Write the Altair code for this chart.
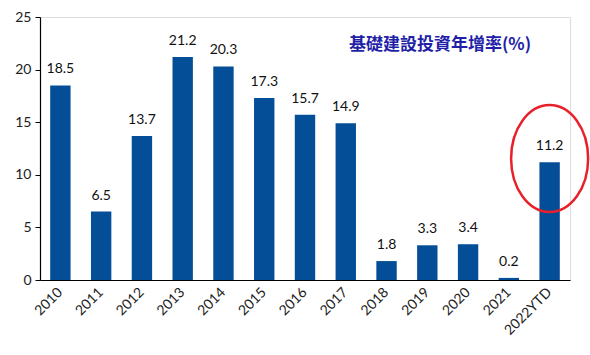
import altair as alt
import pandas as pd

years = ["2010", "2011", "2012", "2013", "2014", "2015", "2016", "2017",
         "2018", "2019", "2020", "2021", "2022YTD"]
values = [18.5, 6.5, 13.7, 21.2, 20.3, 17.3, 15.7, 14.9, 1.8, 3.3, 3.4, 0.2, 11.2]
labels = ["18.5", "6.5", "13.7", "21.2", "20.3", "17.3", "15.7", "14.9", "1.8", "3.3", "3.4", "0.2", "11.2"]
title_text = "基礎建設投資年增率(%)"
highlight_year = "2022YTD"
highlight_center = 11.55

df = pd.DataFrame({"year": years, "value": values, "label": labels})
hl = pd.DataFrame({"year": [highlight_year], "value": [highlight_center]})

x = alt.X("year:N", sort=years, title=None,
          scale=alt.Scale(paddingInner=0.5, paddingOuter=0.25),
          axis=alt.Axis(labelAngle=-45, labelAlign="right", labelBaseline="middle",
                        labelFontSize=14, labelFont="Lato", labelColor="#222",
                        ticks=False, labelPadding=10, domainColor="#000",
                        domainWidth=1.2))
y = alt.Y("value:Q", title=None,
          scale=alt.Scale(domain=[0, 25], nice=False),
          axis=alt.Axis(values=[0, 5, 10, 15, 20, 25], grid=False,
                        labelFontSize=14, labelFont="Lato", labelColor="#222",
                        tickSize=5, tickColor="#000", domainColor="#000",
                        labelPadding=4, domainWidth=1.2))

bars = alt.Chart(df).mark_bar(color="#044E98").encode(x=x, y=y)
text = alt.Chart(df).mark_text(dy=-16, fontSize=14, font="Lato", color="#111").encode(
    x=alt.X("year:N", sort=years), y="value:Q", text="label:N")

ellipse_path = "M -0.72,0 A 0.72,1 0 1,0 0.72,0 A 0.72,1 0 1,0 -0.72,0 Z"
ring = alt.Chart(hl).mark_point(shape=ellipse_path, size=11449, filled=False,
                                stroke="#E8202A", strokeWidth=2.5, opacity=1).encode(
    x=alt.X("year:N", sort=years), y="value:Q")

title = alt.Chart(pd.DataFrame({"t": [title_text]})).mark_text(
    fontSize=17, fontWeight="bold", font="Noto Sans CJK TC", color="#1F1FA8",
    align="center", baseline="middle").encode(
    x=alt.value(400), y=alt.value(28), text="t:N")

chart = (bars + text + ring + title).properties(
    width=530, height=263,
    autosize=alt.AutoSizeParams(type="none"),
    padding={"left": 40, "top": 17, "right": 20, "bottom": 75},
).configure_view(stroke=None).configure(background="white")

chart.save("out.html", embed_options={"renderer": "svg", "actions": False})
